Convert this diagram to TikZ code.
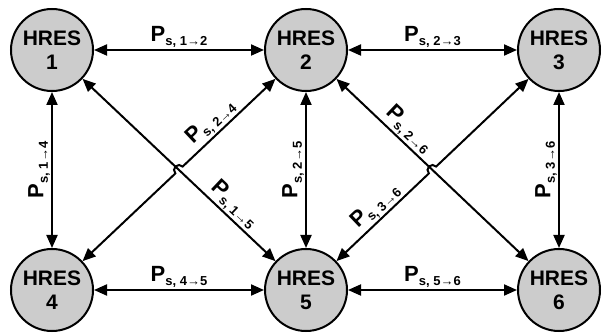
\documentclass[tikz,border=0pt]{standalone}
\usepackage{fontspec}
\setmainfont{Liberation Sans}
\usetikzlibrary{arrows.meta,calc}

\newcommand{\plab}[2]{{\fontsize{22}{22}\selectfont P}{\fontsize{13}{13}\selectfont\raisebox{-4.5pt}{s, #1→#2}}}

\begin{document}
\begin{tikzpicture}[x=1pt,y=1pt,>={Triangle[length=13pt,width=11pt]},
	hres/.style={circle,draw,line width=2pt,fill=black!20,minimum size=82pt,
		inner sep=0pt,align=center,font=\bfseries\fontsize{21}{24}\selectfont},
	link/.style={<->,line width=2pt},
	lab/.style={font=\bfseries,inner sep=1pt}]
	\useasboundingbox (0,0) rectangle (610,332);
	\foreach \n/\x/\y in {1/52/282, 2/306/282, 3/559/282, 4/52/42, 5/306/42, 6/559/42}
		\node[hres] (n\n) at (\x,\y) {HRES\\\n};

	% horizontal and vertical links
	\foreach \a/\b in {1/2, 2/3, 4/5, 5/6}
		\draw[link] (n\a) -- node[lab,above]{\plab{\a}{\b}} (n\b);
	\foreach \a/\b/\t in {1/4/4, 2/5/5, 3/6/6}
		\draw[link] (n\b) -- node[lab,sloped,above]{\plab{\a}{\t}} (n\a);

	% diagonal links, with a hop at the crossings
	\coordinate (c24) at ($(n2)!0.5!(n4)$);
	\coordinate (c35) at ($(n3)!0.5!(n5)$);
	\draw[link] (n1) -- node[lab,sloped,above,pos=0.74]{\plab15} (n5);
	\draw[link] (n2) -- node[lab,sloped,above,pos=0.33]{\plab26} (n6);
	\draw[link] (n2) -- node[lab,sloped,above,pos=0.6]{\plab24} ($(c24)!5pt!(n2)$)
		arc[start angle=43.4,delta angle=180,radius=5pt] -- (n4);
	\draw[link] (n3) -- ($(c35)!5pt!(n3)$)
		arc[start angle=43.5,delta angle=180,radius=5pt]
		-- node[lab,sloped,above,pos=0.48]{\plab36} (n5);
\end{tikzpicture}
\end{document}
